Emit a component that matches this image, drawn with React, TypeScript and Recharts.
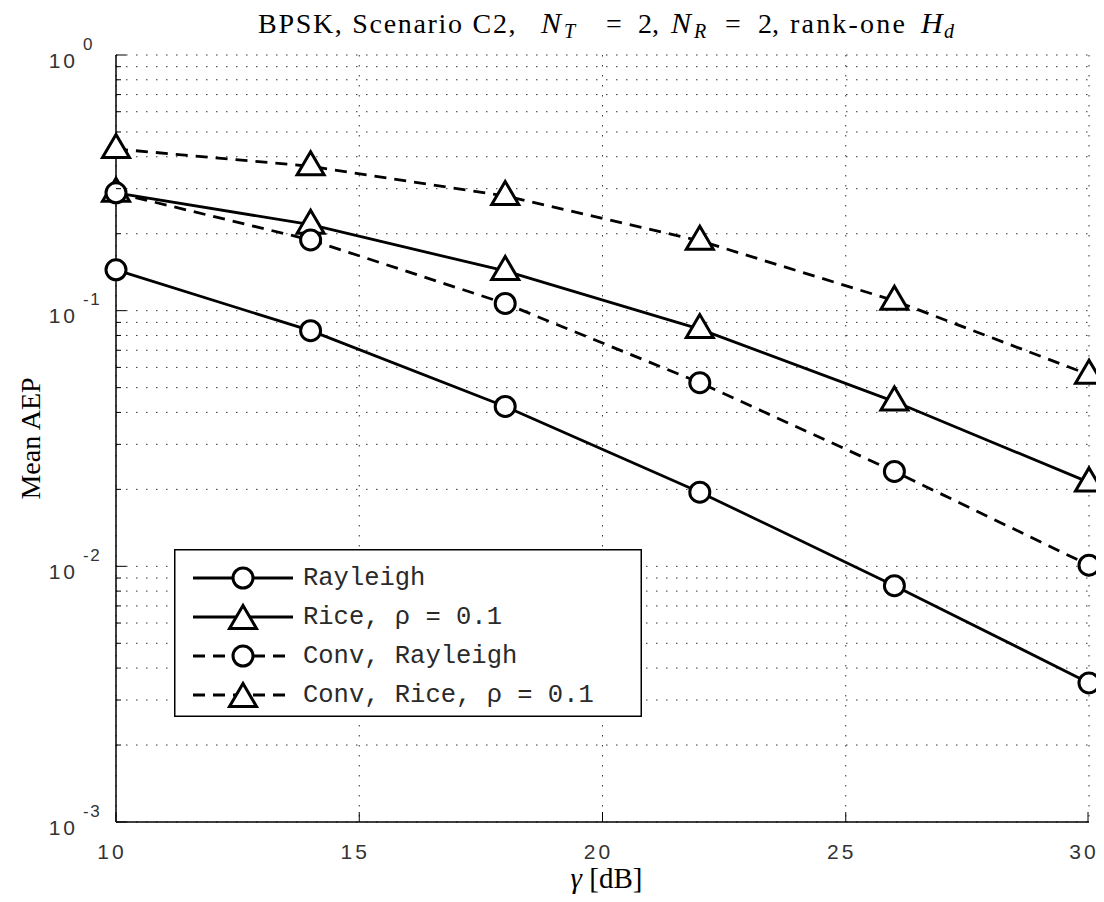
import {
  LineChart,
  Line,
  XAxis,
  YAxis,
  CartesianGrid,
  Legend
} from "recharts"

// SNR points (dB) and mean AEP per scheme
const gammaDb = [10, 14, 18, 22, 26, 30]
const rayleigh = [0.1445, 0.0835, 0.0422, 0.0195, 0.0084, 0.0035]
const rice = [0.289, 0.217, 0.143, 0.0847, 0.0441, 0.0213]
const convRayleigh = [0.289, 0.189, 0.1067, 0.0523, 0.0235, 0.0101]
const convRice = [0.429, 0.367, 0.281, 0.1877, 0.1094, 0.0562]

const seriesNames = ["Rayleigh", "Rice, ρ = 0.1", "Conv, Rayleigh", "Conv, Rice, ρ = 0.1"]

const xTicks = [10, 15, 20, 25, 30]
const yTicks = [
  0.001, 0.002, 0.003, 0.004, 0.005, 0.006, 0.007, 0.008, 0.009,
  0.01, 0.02, 0.03, 0.04, 0.05, 0.06, 0.07, 0.08, 0.09,
  0.1, 0.2, 0.3, 0.4, 0.5, 0.6, 0.7, 0.8, 0.9,
  1
]

const data = gammaDb.map((g, i) => ({
  g,
  rayleigh: rayleigh[i],
  rice: rice[i],
  convRayleigh: convRayleigh[i],
  convRice: convRice[i]
}))

const W = 1088
const H = 886
const TICK_FONT = "'Liberation Sans', Arial, sans-serif"
const SERIF = "'Liberation Serif', 'DejaVu Serif', serif"
const MONO = "'Liberation Mono', 'DejaVu Sans Mono', monospace"
const DASH = "12 8"
const LW = 2.8
const Y_MARGIN = 12
const X_MARGIN = 29

const isDecade = (v: number) => {
  const l = Math.log10(v)
  return Math.abs(l - Math.round(l)) < 1e-6
}

function LeftTick(props: any) {
  const { x, y, payload } = props
  const v = payload.value
  const ax = x + Y_MARGIN
  const major = isDecade(v)
  return (
    <g>
      <line x1={ax} x2={ax + (major ? 10 : 5)} y1={y} y2={y} stroke="#000" strokeWidth={1} />
      {major && (
        <>
          <text x={ax - 38} y={y + 5} textAnchor="end" dominantBaseline="central"
            fontFamily={TICK_FONT} fontSize={21} letterSpacing={3} fill="#333">10</text>
          <text x={ax - 33} y={y - 11} dominantBaseline="central"
            fontFamily={TICK_FONT} fontSize={17} letterSpacing={1.5} fill="#333">{Math.round(Math.log10(v))}</text>
        </>
      )}
    </g>
  )
}

function RightTick(props: any) {
  const { x, y, payload } = props
  const major = isDecade(payload.value)
  return <line x1={x} x2={x - (major ? 10 : 5)} y1={y} y2={y} stroke="#000" strokeWidth={1} />
}

function BottomTick(props: any) {
  const { x, y, payload } = props
  const ay = y - X_MARGIN
  return (
    <g>
      <line x1={x} x2={x} y1={ay} y2={ay - 10} stroke="#000" strokeWidth={1} />
      <text x={x - 4} y={y} textAnchor="middle" dominantBaseline="central"
        fontFamily={TICK_FONT} fontSize={21} letterSpacing={3} fill="#333">{payload.value}</text>
    </g>
  )
}

function TopTick(props: any) {
  const { x, y } = props
  return <line x1={x} x2={x} y1={y} y2={y + 10} stroke="#000" strokeWidth={1} />
}

const circleDot = (p: any) => (
  <circle key={`c-${p.index}`} cx={p.cx} cy={p.cy} r={10} fill="#fff" stroke="#000" strokeWidth={3} />
)

const triPoints = (cx: number, cy: number) =>
  `${cx},${cy - 14.5} ${cx - 13.5},${cy + 8.5} ${cx + 13.5},${cy + 8.5}`

const triangleDot = (p: any) => (
  <polygon key={`t-${p.index}`} points={triPoints(p.cx, p.cy)} fill="#fff" stroke="#000"
    strokeWidth={3} strokeLinejoin="miter" />
)

const legendStyles = [
  { dash: undefined, marker: "circle" },
  { dash: undefined, marker: "triangle" },
  { dash: DASH, marker: "circle" },
  { dash: DASH, marker: "triangle" }
]

function LegendBox() {
  return (
    <svg width={468} height={168} style={{ display: "block" }}>
      <rect x={0.75} y={0.75} width={466.5} height={166.5} fill="#fff" stroke="#000" strokeWidth={1.5} />
      {seriesNames.map((name, i) => {
        const cy = 29 + i * 39
        const st = legendStyles[i]
        return (
          <g key={name}>
            <line x1={19} x2={119} y1={cy} y2={cy} stroke="#000" strokeWidth={LW} strokeDasharray={st.dash} />
            {st.marker === "circle"
              ? <circle cx={69} cy={cy} r={10} fill="#fff" stroke="#000" strokeWidth={3} />
              : <polygon points={triPoints(69, cy + 3)} fill="#fff" stroke="#000" strokeWidth={3} />}
            <text x={129} y={cy} dominantBaseline="central" fontFamily={MONO} fontSize={25.5} fill="#2a2a2a">
              {name}
            </text>
          </g>
        )
      })}
    </svg>
  )
}

// title: LaTeX-like spacing, each piece placed where the original puts it
function Title() {
  return (
    <svg width={W} height={50} style={{ position: "absolute", left: 0, top: 0, pointerEvents: "none" }}>
      <text y={25} fontFamily={SERIF} fontSize={28} fill="#000">
        <tspan x={250} y={25} letterSpacing={1.7}>BPSK, Scenario C2,</tspan>
        <tspan x={533} y={25} fontStyle="italic" fontSize={30}>N</tspan>
        <tspan x={556} y={30} fontStyle="italic" fontSize={20}>T</tspan>
        <tspan x={598} y={25}>=</tspan>
        <tspan x={630} y={25}>2,</tspan>
        <tspan x={663} y={25} fontStyle="italic" fontSize={30}>N</tspan>
        <tspan x={686} y={30} fontStyle="italic" fontSize={20}>R</tspan>
        <tspan x={717} y={25}>=</tspan>
        <tspan x={750} y={25}>2,</tspan>
        <tspan x={782} y={25} letterSpacing={2.2}>rank-one</tspan>
        <tspan x={913} y={25} fontStyle="italic" fontSize={30}>H</tspan>
        <tspan x={936} y={30} fontStyle="italic" fontSize={20}>d</tspan>
      </text>
    </svg>
  )
}

const XLabel = (props: any) => {
  const vb = props.viewBox
  return (
    <text x={vb.x + vb.width / 2 + 4} y={vb.y + 66} textAnchor="middle" fontFamily={SERIF} fontSize={29} fill="#000">
      <tspan fontStyle="italic">γ</tspan>
      <tspan> [dB]</tspan>
    </text>
  )
}

const YLabel = (props: any) => {
  const vb = props.viewBox
  const cx = vb.x + 22
  const cy = vb.y + vb.height / 2
  return (
    <text x={cx} y={cy} textAnchor="middle" dominantBaseline="central" transform={`rotate(-90 ${cx} ${cy})`}
      fontFamily={SERIF} fontSize={28} fill="#000">Mean AEP</text>
  )
}

export default function App() {
  return (
    <div style={{ position: "relative", width: W, height: H }}>
      <style>{`.recharts-surface { overflow: visible; }`}</style>
      <LineChart width={W} height={H} data={data} margin={{ top: 47, right: 7, bottom: 0, left: 0 }}
        style={{ background: "#fff" }}>
        <CartesianGrid stroke="#333" strokeDasharray="1.5 8.5" strokeWidth={1} />
        <XAxis dataKey="g" type="number" domain={[10, 30]} ticks={xTicks} height={72}
          axisLine={{ stroke: "#000", strokeWidth: 1.5 }} tickLine={false} tickSize={0} tickMargin={X_MARGIN}
          tick={<BottomTick />} label={<XLabel />} />
        <XAxis xAxisId="top" orientation="top" type="number" domain={[10, 30]} ticks={xTicks} height={0}
          axisLine={{ stroke: "#000", strokeWidth: 1.5 }} tickLine={false} tickSize={0} tickMargin={0}
          tick={<TopTick />} />
        <YAxis type="number" scale="log" domain={[0.001, 1]} ticks={yTicks} width={108} allowDataOverflow
          axisLine={{ stroke: "#000", strokeWidth: 1.5 }} tickLine={false} tickSize={0} tickMargin={Y_MARGIN}
          tick={<LeftTick />} interval={0} label={<YLabel />} />
        <YAxis yAxisId="right" orientation="right" type="number" scale="log" domain={[0.001, 1]} ticks={yTicks}
          width={0} allowDataOverflow axisLine={{ stroke: "#000", strokeWidth: 1.5 }} tickLine={false}
          tickSize={0} tickMargin={0} tick={<RightTick />} interval={0} />
        <Legend layout="horizontal" verticalAlign="middle" align="center" content={<LegendBox />}
          wrapperStyle={{ position: "absolute", left: 166, top: 541, width: 468, height: 168 }} />
        <Line dataKey="rayleigh" name={seriesNames[0]} stroke="#000" strokeWidth={LW}
          dot={circleDot} activeDot={false} isAnimationActive={false} />
        <Line dataKey="rice" name={seriesNames[1]} stroke="#000" strokeWidth={LW}
          dot={triangleDot} activeDot={false} isAnimationActive={false} />
        <Line dataKey="convRayleigh" name={seriesNames[2]} stroke="#000" strokeWidth={LW} strokeDasharray={DASH}
          dot={circleDot} activeDot={false} isAnimationActive={false} />
        <Line dataKey="convRice" name={seriesNames[3]} stroke="#000" strokeWidth={LW} strokeDasharray={DASH}
          dot={triangleDot} activeDot={false} isAnimationActive={false} />
      </LineChart>
      <Title />
    </div>
  )
}
